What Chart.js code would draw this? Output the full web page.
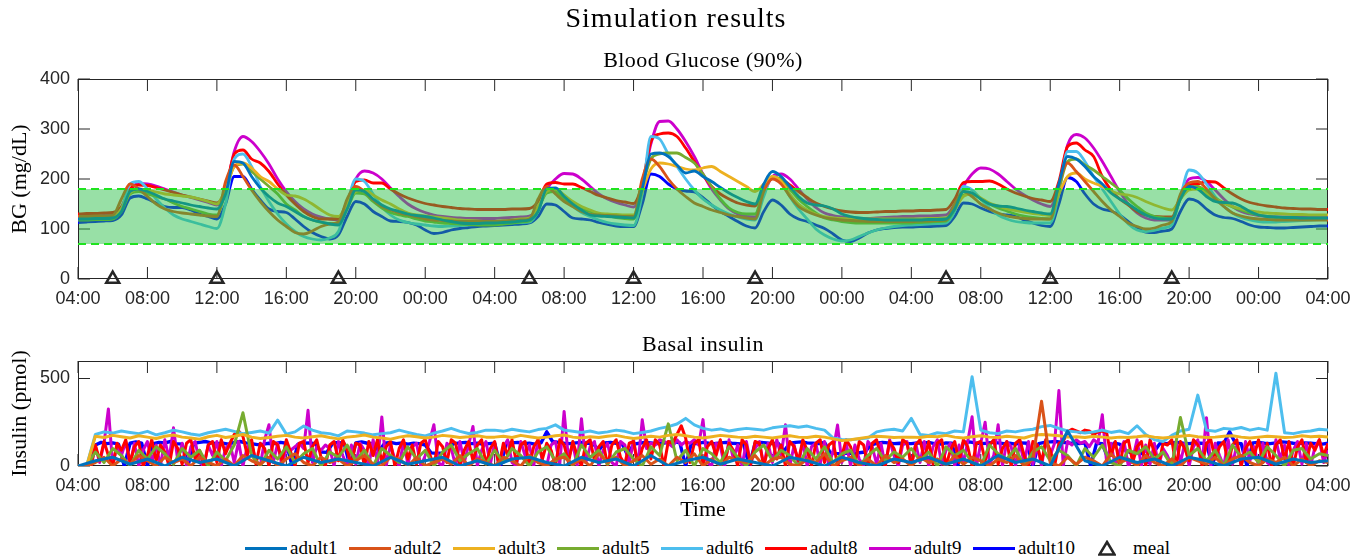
<!DOCTYPE html>
<html>
<head>
<meta charset="utf-8">
<script src="https://cdn.jsdelivr.net/npm/chart.js@4.4.1/dist/chart.umd.min.js"></script>
<style>
body { margin: 0; background: #fff; width: 1368px; height: 560px; overflow: hidden; position: relative; }
canvas { position: absolute; left: 0; }
.ttl { position: absolute; text-align: center; color: #000; font-family: "Liberation Serif", serif; z-index: 2; white-space: nowrap; }
#legend { position: absolute; left: 245px; top: 537px; display: flex; align-items: center; font-family: "Liberation Serif", serif; font-size: 19px; color: #000; z-index: 2; }
#legend .item { display: flex; align-items: center; width: 104px; }
#legend .ln { width: 42px; height: 3px; margin-right: 3px; }
</style>
</head>
<body>
<div class="ttl" style="left:0;width:1352px;top:1px;font-size:28px;line-height:34px;letter-spacing:1px">Simulation results</div>
<div class="ttl" style="left:78px;width:1250px;top:46px;font-size:22px;line-height:28px;letter-spacing:0.4px">Blood Glucose (90%)</div>
<div class="ttl" style="left:78px;width:1250px;top:330px;font-size:22px;line-height:28px;letter-spacing:0.6px">Basal insulin</div>
<canvas id="bgChart" width="1368" height="310" style="top:0"></canvas>
<canvas id="insChart" width="1368" height="220" style="top:310px"></canvas>
<div id="legend"></div>
<script>
// axes
var tickHours = [0, 4, 8, 12, 16, 20, 24, 28, 32, 36, 40, 44, 48, 52, 56, 60, 64, 68, 72];
var tickLabels = ['04:00', '08:00', '12:00', '16:00', '20:00', '00:00', '04:00', '08:00', '12:00', '16:00',
    '20:00', '00:00', '04:00', '08:00', '12:00', '16:00', '20:00', '00:00', '04:00'];
var totalHours = 72;
var bgTicks = [0, 100, 200, 300, 400];
var insTicks = [0, 500];
var bgTarget = [70, 180];
var mealHours = [2, 8, 15, 26, 32, 39, 50, 56, 63];

var adults = ['adult1', 'adult2', 'adult3', 'adult5', 'adult6', 'adult8', 'adult9', 'adult10'];
var colors = ['#0072BD', '#D95319', '#EDB120', '#77AC30', '#4DBEEE', '#FF0000', '#CC00CC', '#0000FF'];

// Blood glucose, mg/dL, every 30 min from 04:00 day 1 to 04:00 day 4
var bgAdult1 = [
    120,120,121,121,122, 135,175,180,175,168,160,156,152,148,145,142,140, 170,235,232,205,182,165,152,145,135,125,118,114,110,108, 140,178,175,160,148,140,135,130,127,125,122,118,115,112,111,111,112,
    112,113,114,116,118, 135,180,182,165,150,138,128,126,125,124,123,122, 180,250,252,245,228,212,216,205,195,183,172,163,155,150, 190,215,205,185,165,152,148,146,140,130,125,122,120,119,118,118,118,
    118,118,119,119,120, 140,175,172,160,150,146,145,142,138,135,132,130, 190,245,240,225,205,190,172,160,150,138,128,122,120,120, 160,185,180,165,155,153,152,145,135,128,125,124,123,123,122,122,122,
    122];
var bgAdult2 = [
    125,125,126,126,127, 160,190,180,165,150,140,135,132,130,128,126,125, 195,228,205,178,155,135,118,105,93,90,96,105,110,114, 160,185,175,158,145,138,132,128,124,120,118,117,116,115,115,115,115,
    115,116,117,118,120, 160,185,170,155,145,135,130,128,127,126,125,125, 200,240,225,200,180,165,152,145,138,133,128,125,122,120, 175,200,190,165,145,135,128,123,120,118,117,116,115,115,115,115,115,
    115,116,116,117,118, 150,175,165,150,140,132,126,123,121,120,120,120, 190,232,215,195,175,155,138,125,112,105,100,102,108,115, 170,192,195,180,160,145,132,126,122,120,119,118,118,118,118,118,118,
    118];
var bgAdult3 = [
    122,122,123,123,124, 140,172,180,178,174,170,168,166,164,160,155,150, 180,225,232,222,205,195,180,168,166,160,150,138,128,125, 150,175,178,168,158,150,140,132,128,126,124,122,120,118,117,116,115,
    115,116,118,120,122, 145,175,180,168,155,145,138,132,130,129,128,128, 175,220,232,230,225,220,218,222,225,215,205,195,185,175, 190,205,195,170,150,138,130,125,122,121,120,120,120,120,120,120,120,
    120,120,121,121,122, 140,165,170,162,152,146,140,137,134,131,129,127, 170,205,212,200,192,185,176,170,168,163,155,148,142,138, 160,178,180,170,160,152,145,140,136,134,132,131,130,129,129,128,128,
    128];
var bgAdult5 = [
    118,118,119,119,120, 135,170,175,170,165,160,152,145,140,135,130,128, 175,225,230,215,200,185,170,150,138,125,118,113,111,110, 140,172,170,155,142,133,128,125,120,116,114,112,111,110,109,108,108,
    108,110,112,114,116, 140,172,175,160,148,140,135,130,126,123,121,120, 185,240,250,252,252,243,232,210,185,160,142,133,130,130, 180,203,200,180,160,145,132,122,118,115,113,112,112,112,112,112,112,
    112,113,114,115,116, 140,168,170,160,150,142,136,130,126,123,121,120, 180,235,240,228,218,205,192,178,160,145,132,125,122,120, 160,183,185,175,162,152,144,138,132,128,125,123,122,121,121,120,120,
    120];
var bgAdult6 = [
    120,120,121,121,122, 140,190,195,180,160,142,128,120,115,110,105,101, 150,240,250,225,185,155,130,110,95,85,80,78,82,95, 150,200,195,170,145,128,118,113,110,108,106,105,106,107,108,109,110,
    110,111,112,113,114, 135,180,175,160,145,133,125,118,113,110,108,107, 170,285,280,250,225,200,178,160,148,138,130,124,120,118, 165,205,195,165,140,120,100,88,80,76,78,85,92,98,102,105,107,
    108,109,110,111,112, 135,185,178,160,142,128,120,115,113,112,112,112, 170,255,255,235,205,180,155,130,110,98,95,97,102,108, 165,218,212,190,165,145,132,123,118,115,114,114,115,116,117,118,119,
    120];
var bgAdult8 = [
    130,131,131,132,133, 145,180,188,187,183,178,173,168,164,160,156,152, 180,250,258,240,232,215,190,168,150,135,125,120,120,121, 155,195,198,192,192,180,170,162,156,151,148,145,143,141,140,139,139,
    139,139,140,140,141, 155,190,193,190,190,183,175,167,162,157,154,151, 190,275,290,292,285,262,235,208,185,170,160,152,148,146, 175,202,200,188,175,163,152,145,140,136,134,133,133,134,135,135,136,
    136,137,137,138,139, 160,193,195,195,196,190,180,172,166,161,158,155, 195,265,272,258,245,205,178,160,148,135,128,125,124,124, 165,188,190,195,194,182,170,160,153,149,146,144,142,141,140,140,139,
    139];
var bgAdult9 = [
    125,125,126,127,127, 140,178,191,190,186,180,174,168,163,158,153,148, 175,255,285,275,255,230,200,175,155,140,130,124,120,119, 150,200,216,212,200,182,165,150,140,133,128,125,123,122,121,121,121,
    121,122,123,124,126, 140,180,200,211,210,200,185,170,160,153,148,144, 185,270,315,316,300,275,245,210,180,158,140,130,125,124, 170,205,210,200,180,160,143,132,127,124,122,121,121,122,123,124,125,
    125,126,126,127,128, 150,185,210,222,220,210,195,180,168,158,150,145, 185,268,289,282,262,235,205,175,150,132,122,118,118,118, 165,200,203,195,178,160,145,135,130,127,125,124,124,124,124,124,124,
    125];
var bgAdult10 = [
    113,114,115,116,117, 128,162,166,160,152,145,143,143,138,130,125,120, 150,205,205,180,158,140,135,133,120,105,93,85,80,88, 125,155,150,135,125,116,115,113,108,98,91,93,98,101,103,105,106,
    107,108,109,110,112, 125,150,148,135,122,120,118,113,109,106,105,105, 150,210,205,190,180,176,174,163,148,135,125,115,106,102, 135,158,148,130,120,115,108,101,90,78,75,82,92,98,101,103,104,
    104,105,105,106,107, 125,152,150,142,135,130,128,125,118,112,107,105, 150,203,195,170,150,140,136,128,115,102,94,93,96,100, 135,160,155,140,128,123,121,115,108,104,103,102,102,103,104,105,106,
    106];

// Basal insulin, pmol, each series sampled evenly over the same 72 h
var insAdult1 = [0,
    30,50,10,40,0,50,20,40,0,60,30,0,50,20,40,20,0,50,10,30,50,0,30,0,
    40,50,20,0,50,20,40,0,60,0,30,50,10,40,20,0,50,30,0,50,20,0,40,20,
    50,10,40,0,60,20,40,0,200,30,0,50,20,40,0,50,30,0,40,50,10,40,20,30];
var insAdult2 = [0, 0,
    20,50,0,40,10,60,30,0,50,20, 40,0,50,20,0,40,0,60,30,10, 50,0,40,70,20,0,50,20,40,0, 30,60,10,0,50,40,0,50,0,20, 40,10,60,0,40,20,
    0,50,30,0,60,20,0,40,50,10, 40,0,70,20,50,0,30,60,10,40, 0,50,20,70,0,40,0,50,30,20, 60,0,40,50,10,0,40,20,70,0, 30,50,0,40,0,60,20,40,
    0,50,20,40,0,60,10,50,30,0, 40,20,60,0,40,370,20,0,50,10, 50,30,0,70,20,40,0,60,20,0, 40,0,50,30,10,50,0,40,60,20, 0,40,20,50,0,40,0,30,
    20];
var insAdult3 = [0, 0,
    170,163,175,167,160,173,165,157,170,177, 165,160,153,167,175,163,170,180,165,157, 163,170,175,165,160,167,173,163,155,165, 170,177,165,160,153,165,173,167,160,165, 175,170,163,167,173,165,
    165,170,163,175,167,160,165,173,177,165, 160,167,163,170,175,165,157,163,170,165, 175,180,173,165,160,167,175,170,165,163, 170,165,160,167,173,165,163,170,165,155, 145,150,157,165,170,167,163,165,
    165,163,170,167,175,165,160,167,173,165, 163,170,165,160,175,180,177,173,165,167, 163,170,165,160,165,163,167,173,165,160, 165,170,175,167,163,165,170,173,165,160, 165,170,167,163,165,173,167,170,
    165];
var insAdult5 = [0, 0,
    80,20,100,60,0,90,40,110,70,10, 100,50,90,0,80,30,120,304,60,0, 90,40,110,20,70,100,0,80,50,120, 30,90,0,100,60,20,110,40,90,0, 80,120,30,70,100,10,
    90,20,100,60,0,80,110,30,70,0, 120,50,90,10,80,100,40,0,110,60, 241,30,90,0,100,70,20,110,50,0, 80,120,30,90,60,0,100,40,110,20, 70,90,0,60,100,30,80,50,
    100,30,80,0,110,60,90,20,0,120, 70,40,100,0,80,110,30,90,60,0, 100,50,120,20,0,90,70,110,40,80, 0,277,60,100,30,90,0,120,50,80, 20,110,60,0,90,100,40,70,
    60];
var insAdult6 = [0, 0,
    180,195,188,200,192,185,198,178,190,205, 195,183,176,190,200,210,198,185,192,200, 188,262,182,195,228,205,190,185,172,200, 195,188,178,185,190,205,192,180,172,188, 200,215,198,186,192,205,
    205,198,210,202,195,208,215,235,205,198, 192,200,188,195,205,198,185,192,200,215, 225,240,272,235,215,205,212,200,208,215, 210,205,218,225,230,222,228,215,205,160, 152,150,155,160,195,205,210,200,
    272,180,175,190,185,200,195,510,205,190, 185,200,195,205,210,225,232,215,200,195, 188,195,205,192,200,185,230,180,150,140, 175,200,210,405,205,198,215,210,220,205, 215,205,530,190,185,195,200,210,
    205];
var insAdult8 = [
    0,0,0,0,120,30,140,60,0,130,90,150, 20,110,140,0,60,150,30,120,80,0,140,100, 10,130,150,40,90,0,120,140,20,150,70,130,
    180,200,170,60,150,10,130,100,0,140,120,30, 150,80,0,130,140,20,110,150,50,0,120,140, 30,150,90,10,130,120,0,140,60,150,20,110,
    140,0,100,150,40,120,10,130,150,70,0,140, 110,20,150,130,0,90,140,30,120,150,10,100,
    140,0,130,60,150,20,120,140,0,110,150,40, 130,90,0,150,120,20,140,60,0,130,150,30, 110,140,0,120,150,50,10,130,140,0,100,150,
    40,150,120,0,140,130,180,230,160,20,130,150, 0,110,140,60,150,20,130,90,0,150,120,10, 140,130,0,100,150,40,120,0,140,110,30,150,
    90,0,130,150,20,120,140,0,60,150,110,10, 140,120,0,130,150,50,0,140,100,20,150,130,
    0,120,150,40,140,10,130,150,0,90,140,20, 150,110,0,130,140,30,120,150,10,100,140,0, 130,150,60,0,140,120,20,150,90,0,130,140,
    195,210,200,190,205,200,180,195,200,190,60,140, 0,130,150,20,110,140,0,150,80,10,130,120, 150,0,140,100,30,150,120,0,130,150,40,110,
    140,10,120,150,0,100,140,60,150,20,130,0, 120,150,40,140,0,110,150,20,130,90,150,60,
    130];
var insAdult9 = [
    0,0,0,0,110,20,130,326,0,120,60,140, 10,130,0,90,140,20,120,0,150,40,218,30, 130,0,110,140,20,0,120,60,140,0,100,130,
    20,140,0,110,120,30,0,150,236,20,130,0, 100,90,110,130,100,318,20,110,90,120,100,0, 140,60,0,120,10,130,90,0,150,20,280,0,
    120,40,0,140,10,110,130,0,60,140,236,20, 0,130,100,0,140,20,120,226,0,90,140,10,
    130,0,110,150,20,0,140,60,120,0,150,30, 0,120,140,10,312,40,130,0,270,20,110,140, 0,90,130,20,0,140,120,10,150,0,264,100,
    130,120,150,140,130,110,150,120,140,130,150,120, 265,20,0,130,110,0,150,40,120,0,140,10, 100,140,0,130,20,150,60,236,0,120,10,140,
    0,110,130,10,140,0,90,234,20,130,0,120, 40,0,140,110,10,130,0,150,60,0,120,140,
    0,130,20,140,0,110,150,10,90,130,0,120, 20,140,281,0,130,250,10,60,236,0,140,110, 0,130,20,140,10,120,0,150,60,130,431,0,
    140,120,150,130,140,110,150,130,293,20,130,0, 90,140,0,40,150,0,120,10,130,0,100,60, 0,140,20,130,0,110,150,20,276,0,130,60,
    0,150,10,120,0,140,30,110,0,130,20,0, 150,40,120,0,90,140,10,130,0,110,150,20,
    90];
var insAdult10 = [
    0,0,0,120,135,128,132,125,0,130, 138,130,0,128,135,132,140,128,125,0, 130,135,140,132,128,130,125,135,140,132, 128,122,125,130,128,135,130,0,125,130,
    132,128,80,78,130,135,128,0,132,138, 130,128,85,130,135,128,132,125,130,128, 120,75,72,74,110,128,132,135,128,130, 125,128,
    130,0,128,132,135,128,130,125,132,195, 140,135,130,128,132,135,130,128,90,132, 135,130,128,60,125,130,135,132,128,130, 135,140,132,0,130,128,135,130,128,132,
    135,130,128,125,0,130,135,132,128,130, 85,130,135,138,132,130,128,135,75,72, 70,74,72,76,80,120,130,135,132,128, 130,128,
    128,132,130,135,128,125,132,130,0,135, 138,132,128,130,135,132,128,130,125,132, 130,0,128,135,138,140,135,132,130,128, 132,0,130,128,40,130,125,90,75,80,
    70,20,85,130,128,132,135,130,128,132, 130,128,0,132,130,195,130,128,0,132, 135,130,128,132,138,135,130,128,132,130, 128,125,130];

var bgSeries = [bgAdult1, bgAdult2, bgAdult3, bgAdult5, bgAdult6, bgAdult8, bgAdult9, bgAdult10];
var insSeries = [insAdult1, insAdult2, insAdult3, insAdult5, insAdult6, insAdult8, insAdult9, insAdult10];

// each series spans the whole 72 h, so spacing comes from its length
function toPoints(vals) {
    var step = totalHours / (vals.length - 1);
    return vals.map(function (v, i) { return { x: i * step, y: v }; });
}

Chart.defaults.font.family = "'Liberation Sans', Arial, sans-serif";
Chart.defaults.font.size = 18;
Chart.defaults.color = '#262626';

// frame with inward ticks on all four sides
var boxPlugin = {
    id: 'box',
    beforeDatasetsDraw: function (chart) {
        var ctx = chart.ctx, a = chart.chartArea, x = chart.scales.x, y = chart.scales.y;
        var len = 12;
        ctx.save();
        ctx.strokeStyle = '#262626';
        ctx.lineWidth = 1;
        ctx.beginPath();
        x.ticks.forEach(function (t) {
            var px = x.getPixelForValue(t.value);
            ctx.moveTo(px, a.bottom); ctx.lineTo(px, a.bottom - len);
            ctx.moveTo(px, a.top); ctx.lineTo(px, a.top + len);
        });
        y.ticks.forEach(function (t) {
            var py = y.getPixelForValue(t.value);
            ctx.moveTo(a.left, py); ctx.lineTo(a.left + len, py);
            ctx.moveTo(a.right, py); ctx.lineTo(a.right - len, py);
        });
        ctx.stroke();
        ctx.strokeRect(Math.round(a.left) + 0.5, Math.round(a.top) + 0.5,
            Math.round(a.right - a.left) - 1, Math.round(a.bottom - a.top) - 1);
        ctx.restore();
    }
};

// target range drawn over the curves
var bandPlugin = {
    id: 'band',
    afterDatasetsDraw: function (chart) {
        var ctx = chart.ctx, a = chart.chartArea, y = chart.scales.y;
        var yTop = y.getPixelForValue(bgTarget[1]), yBot = y.getPixelForValue(bgTarget[0]);
        ctx.save();
        ctx.fillStyle = 'rgba(40,190,70,0.48)';
        ctx.fillRect(a.left + 1, yTop, a.right - a.left - 2, yBot - yTop);
        ctx.strokeStyle = '#1fe31f';
        ctx.lineWidth = 2;
        ctx.setLineDash([8, 5]);
        ctx.beginPath();
        ctx.moveTo(a.left, yTop); ctx.lineTo(a.right, yTop);
        ctx.moveTo(a.left, yBot); ctx.lineTo(a.right, yBot);
        ctx.stroke();
        ctx.restore();
    }
};

function xAxis(height, withTitle) {
    return {
        type: 'linear', min: 0, max: totalHours,
        grid: { display: false, drawTicks: false },
        border: { display: false },
        afterBuildTicks: function (s) { s.ticks = tickHours.map(function (v) { return { value: v }; }); },
        afterFit: function (s) { s.height = height; },
        ticks: { autoSkip: false, maxRotation: 0, padding: 9, callback: function (v, i) { return tickLabels[i]; } },
        title: {
            display: withTitle, text: 'Time', color: '#000',
            font: { family: "'Liberation Serif', serif", size: 22 }, padding: { top: 0, bottom: 7 }
        }
    };
}

function yAxis(max, ticks, label) {
    return {
        min: 0, max: max,
        grid: { display: false, drawTicks: false },
        border: { display: false },
        afterBuildTicks: function (s) { s.ticks = ticks.map(function (v) { return { value: v }; }); },
        afterFit: function (s) { s.width = 78; },
        ticks: { padding: 8 },
        title: {
            display: true, text: label, color: '#000',
            font: { family: "'Liberation Serif', serif", size: 22 }, padding: { top: 7, bottom: 0 }
        }
    };
}

var bgDatasets = adults.map(function (name, i) {
    return {
        label: name, data: toPoints(bgSeries[i]), borderColor: colors[i],
        borderWidth: 2.8, pointRadius: 0, cubicInterpolationMode: 'monotone', fill: false
    };
});
bgDatasets.push({
    label: 'meal', data: mealHours.map(function (h) { return { x: h, y: 0 }; }),
    showLine: false, pointStyle: 'triangle', pointRadius: 7.5, pointBorderWidth: 2.5,
    pointBorderColor: '#262626', pointBackgroundColor: 'rgba(0,0,0,0)', clip: false
});

new Chart(document.getElementById('bgChart'), {
    type: 'line',
    data: { datasets: bgDatasets },
    options: {
        responsive: false, animation: false, devicePixelRatio: 1,
        layout: { padding: { top: 79, left: 0, right: 40, bottom: 0 } },
        plugins: { legend: { display: false }, tooltip: { enabled: false } },
        scales: { x: xAxis(31, false), y: yAxis(400, bgTicks, 'BG (mg/dL)') }
    },
    plugins: [boxPlugin, bandPlugin]
});

var insDatasets = adults.map(function (name, i) {
    return {
        label: name, data: toPoints(insSeries[i]), borderColor: colors[i],
        borderWidth: name === 'adult10' ? 3.4 : 3, pointRadius: 0, tension: 0,
        borderJoinStyle: 'round', fill: false
    };
});

new Chart(document.getElementById('insChart'), {
    type: 'line',
    data: { datasets: insDatasets },
    options: {
        responsive: false, animation: false, devicePixelRatio: 1,
        layout: { padding: { top: 51, left: 0, right: 40, bottom: 0 } },
        plugins: { legend: { display: false }, tooltip: { enabled: false } },
        scales: { x: xAxis(64, true), y: yAxis(600, insTicks, 'Insulin (pmol)') }
    },
    plugins: [boxPlugin]
});

// legend shared by both panels
var legend = document.getElementById('legend');
adults.forEach(function (name, i) {
    var item = document.createElement('div');
    item.className = 'item';
    if (name === 'adult10') item.style.width = '125px';
    var ln = document.createElement('span');
    ln.className = 'ln';
    ln.style.background = colors[i];
    item.appendChild(ln);
    item.appendChild(document.createTextNode(name));
    legend.appendChild(item);
});
var meal = document.createElement('div');
meal.className = 'item';
meal.innerHTML = '<svg width="18" height="16" style="margin-right:17px"><polygon points="9,2 16.5,14.5 1.5,14.5" fill="none" stroke="#262626" stroke-width="2.5"/></svg>meal';
legend.appendChild(meal);
</script>
</body>
</html>
